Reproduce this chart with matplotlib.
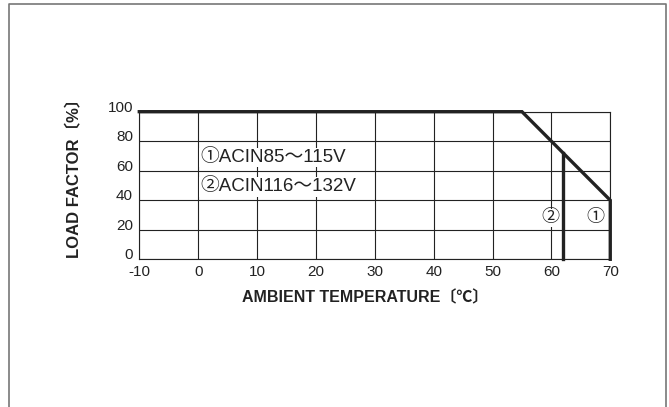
import numpy as np
import matplotlib.pyplot as plt
from matplotlib.lines import Line2D

# derating curves (ambient temp vs load factor)
temp_1 = [-10, 55, 70, 70]
load_1 = [100, 100, 40, 0]
temp_2 = [62, 62]
load_2 = [72, 0]

x_ticks = [-10, 0, 10, 20, 30, 40, 50, 60, 70]
y_ticks = [0, 20, 40, 60, 80, 100]

legend_lines = ['①ACIN85～115V', '②ACIN116～132V']
legend_y = [69.0, 49.0]
curve_tags = ['②', '①']
tag_x = [59.8, 67.5]
tag_y = [28, 28]

fam = ['Liberation Sans', 'Noto Sans CJK JP', 'DejaVu Sans']
plt.rcParams['font.family'] = fam
plt.rcParams['axes.unicode_minus'] = False

fig = plt.figure(figsize=(6.69, 4.07), dpi=100)
ax = fig.add_axes([0.2082, 0.3629, 0.704, 0.3627])

ax.set_xlim(-10, 70)
ax.set_ylim(0, 100)
ax.set_xticks(x_ticks)
ax.set_xticklabels([str(v) for v in x_ticks])
ax.set_yticks(y_ticks)
ax.set_yticklabels([str(v) for v in y_ticks], va='baseline')
ax.grid(True, color='#222222', lw=0.8)
ax.set_axisbelow(True)
for s in ax.spines.values():
    s.set_color('#222222')
    s.set_linewidth(0.8)
ax.tick_params(length=0, labelsize=11, colors='#222222')
ax.tick_params(axis='x', pad=4)
ax.tick_params(axis='y', pad=4.5)

ax.plot(temp_1, load_1, color='#222222', lw=2.4, solid_joinstyle='miter', clip_on=False, zorder=5)
ax.plot(temp_2, load_2, color='#222222', lw=2.4, clip_on=False, zorder=5)

for t, y in zip(legend_lines, legend_y):
    ax.text(0.3, y, t, fontsize=13.5, va='center', ha='left', color='#222222',
            bbox=dict(facecolor='white', edgecolor='none', pad=1.0), zorder=4)
for t, x, y in zip(curve_tags, tag_x, tag_y):
    ax.text(x, y, t, fontsize=13, ha='center', va='center', color='#222222',
            bbox=dict(facecolor='white', edgecolor='none', pad=0.5), zorder=4)

fig.text(0.546, 0.268, 'AMBIENT TEMPERATURE〔℃〕', fontsize=11.5, fontweight='bold',
         ha='center', va='center', color='#222222')
fig.text(0.1105, 0.572, 'LOAD FACTOR〔%〕', fontsize=12, fontweight='bold', rotation=90,
         ha='center', va='center', color='#222222')

# outer frame (no bottom edge)
fig.add_artist(Line2D([0.0142, 0.0142, 0.9948, 0.9948], [0.0, 0.989, 0.989, 0.0],
                      transform=fig.transFigure, color='#777777', lw=1.2))

fig.savefig('out.png', dpi=100)
